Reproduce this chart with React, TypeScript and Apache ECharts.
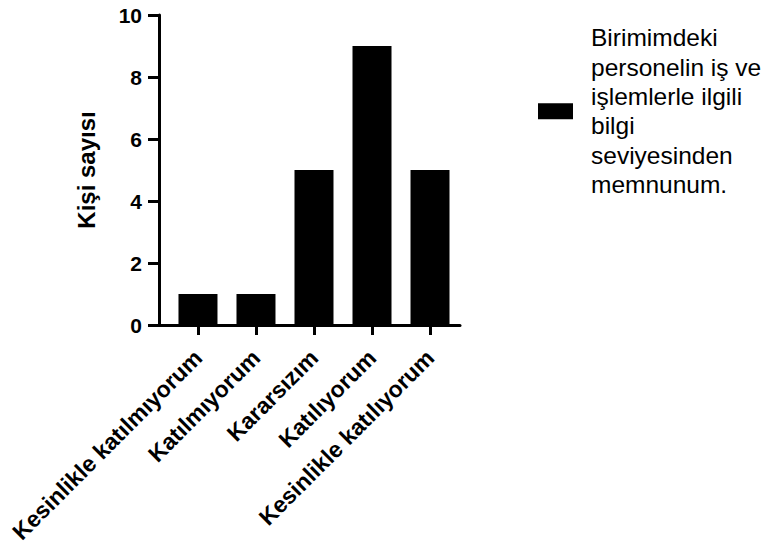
import React, { useEffect, useRef } from "react";
import * as echarts from "echarts";

const categories = [
  "Kesinlikle katılmıyorum",
  "Katılmıyorum",
  "Kararsızım",
  "Katılıyorum",
  "Kesinlikle katılıyorum",
];
const values = [1, 1, 5, 9, 5];
const seriesName = "Birimimdeki\npersonelin iş ve\nişlemlerle ilgili\nbilgi\nseviyesinden\nmemnunum.";
const yTicks = [0, 2, 4, 6, 8, 10];
const yAxisTitle = "Kişi sayısı";

const FONT = "Arial, 'Liberation Sans', Helvetica, sans-serif";

export default function App() {
  const ref = useRef<HTMLDivElement>(null);
  useEffect(() => {
    document.body.style.margin = "0";
    if (!ref.current) return;
    const chart = echarts.init(ref.current, undefined, { renderer: "svg" });
    const idx = categories.map((_, i) => i);
    chart.setOption({
      animation: false,
      backgroundColor: "#ffffff",
      grid: { left: 159, top: 15, right: 310, bottom: 222, containLabel: false },
      legend: {
        show: true,
        left: 533,
        top: 18,
        orient: "vertical",
        itemWidth: 35,
        itemHeight: 16,
        icon: "rect",
        data: [seriesName],
        textStyle: {
          fontFamily: FONT,
          fontSize: 24.5,
          color: "#000",
          lineHeight: 29.4,
          padding: [0, 0, 0, 13],
        },
      },
      xAxis: {
        type: "value",
        min: -0.672,
        max: 4.517,
        splitLine: { show: false },
        axisLine: { show: true, onZero: false, lineStyle: { color: "#000", width: 3 } },
        axisTick: {
          show: true,
          length: 10,
          lineStyle: { color: "#000", width: 3 },
          customValues: idx,
        },
        axisLabel: {
          show: true,
          customValues: idx,
          rotate: 45,
          margin: 29,
          fontFamily: FONT,
          fontSize: 23,
          fontWeight: "bold",
          color: "#000",
          formatter: (v: number) => categories[Math.round(v)] ?? "",
        },
      },
      yAxis: {
        type: "value",
        min: 0,
        max: 10,
        interval: 2,
        name: yAxisTitle,
        nameLocation: "middle",
        nameGap: 61,
        nameTextStyle: {
          fontFamily: FONT,
          fontSize: 24,
          fontWeight: "bold",
          color: "#000",
        },
        splitLine: { show: false },
        axisLine: { show: true, onZero: false, lineStyle: { color: "#000", width: 3 } },
        axisTick: { show: true, length: 11, lineStyle: { color: "#000", width: 3 } },
        axisLabel: {
          margin: 17,
          fontFamily: FONT,
          fontSize: 21,
          fontWeight: "bold",
          color: "#000",
          formatter: (v: number) => (yTicks.includes(v) ? String(v) : ""),
        },
      },
      series: [
        {
          name: seriesName,
          type: "bar",
          barWidth: 39,
          itemStyle: { color: "#000" },
          data: values.map((v, i) => [i, v]),
        },
      ],
    });
    return () => chart.dispose();
  }, []);
  return <div ref={ref} style={{ width: 770, height: 547 }} />;
}
